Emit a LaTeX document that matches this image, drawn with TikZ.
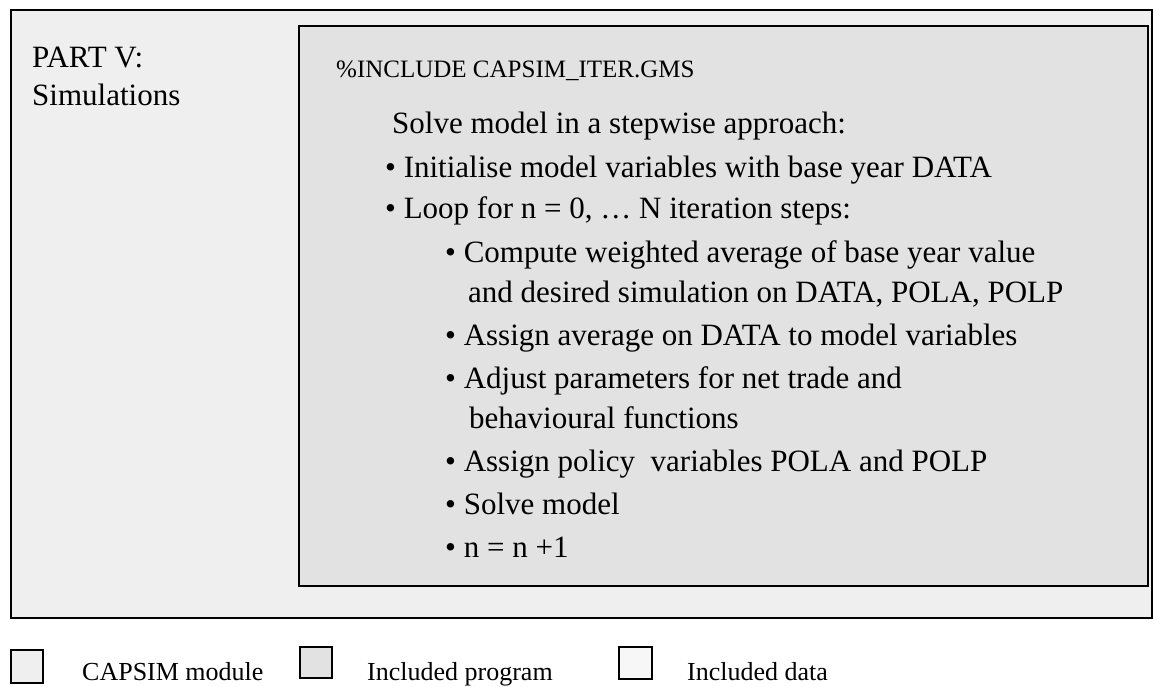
\documentclass[tikz,border=0pt]{standalone}
\usepackage{fontspec}
\setmainfont{Liberation Serif}
\definecolor{modfill}{HTML}{EFEFEF}
\definecolor{progfill}{HTML}{E2E2E2}
\definecolor{datafill}{HTML}{F7F7F7}
\tikzset{
  body/.style={anchor=base west, inner sep=0pt, font=\fontsize{31}{38}\selectfont},
  small/.style={anchor=base west, inner sep=0pt, font=\fontsize{25}{30}\selectfont},
  legtext/.style={anchor=base west, inner sep=0pt, font=\fontsize{26}{31}\selectfont},
  legbox/.style={draw=black, line width=1.5pt},
}
\begin{document}
\begin{tikzpicture}[x=1pt, y=-1pt]
\useasboundingbox (0,0) rectangle (1153,686);
% CAPSIM module frame
\draw[line width=2pt, fill=modfill] (11,10) rectangle (1152,618);
% included program frame
\draw[line width=2pt, fill=progfill] (299,26) rectangle (1148,586);

\node[body] (part) at (32,67) {PART V:};
\node[body] (sim) at (32,105) {Simulations};

\node[small] (inc) at (336,77) {\%INCLUDE CAPSIM\_ITER.GMS};
\node[body] (solve) at (392,133) {Solve model in a stepwise approach:};
\node[body] (init) at (385,177) {• Initialise model variables with base year DATA};
\node[body] (loop) at (385,218) {• Loop for n = 0, … N iteration steps:};
\node[body] (comp) at (445,262) {• Compute weighted average of base year value};
\node[body] (comp2) at (468,302) {and desired simulation on DATA, POLA, POLP};
\node[body] (assign) at (445,345) {• Assign average on DATA to model variables};
\node[body] (adjust) at (445,388) {• Adjust parameters for net trade and};
\node[body] (adjust2) at (469,428) {behavioural functions};
\node[body] (policy) at (445,471) {• Assign policy\ \ variables POLA and POLP};
\node[body] (solvem) at (445,514) {• Solve model};
\node[body] (incr) at (445,557) {• n = n +1};

% legend
\draw[legbox, fill=modfill] (11,650) rectangle (43,683);
\node[legtext] (lmod) at (82,680) {CAPSIM module};
\draw[legbox, fill=progfill] (300,647) rectangle (332,678);
\node[legtext] (lprog) at (367,680) {Included program};
\draw[legbox, fill=datafill] (619,647) rectangle (652,679);
\node[legtext] (ldata) at (687,680) {Included data};
\end{tikzpicture}
\end{document}
